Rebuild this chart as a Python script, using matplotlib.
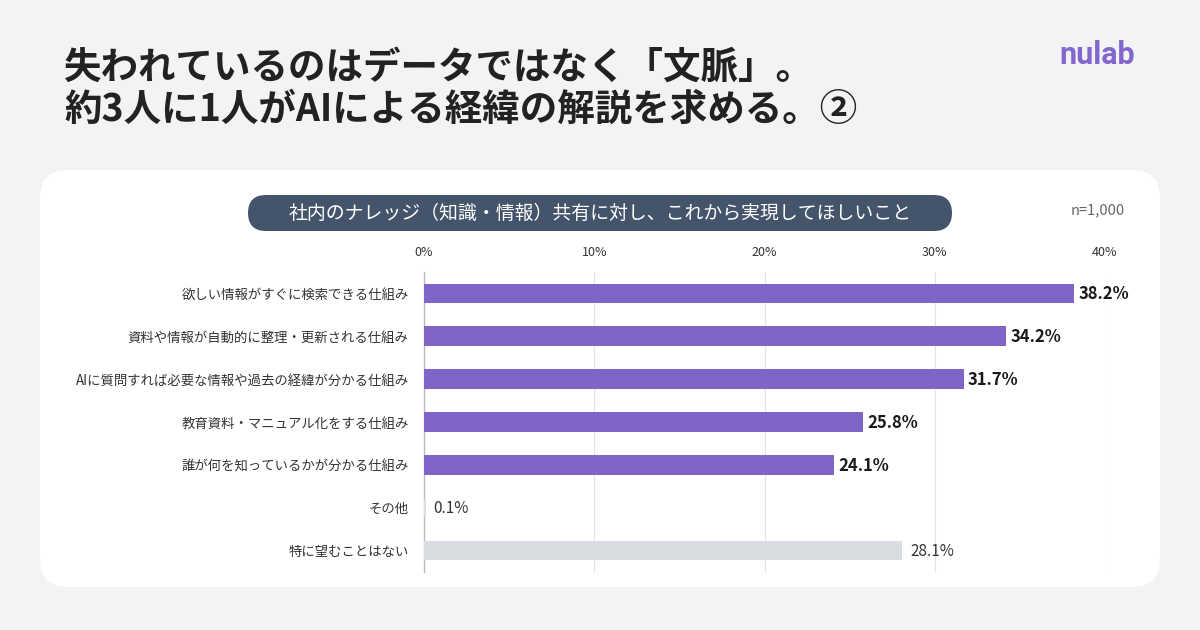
import matplotlib
matplotlib.use("Agg")
import matplotlib.pyplot as plt
from matplotlib.patches import FancyBboxPatch

plt.rcParams['font.family'] = ['Noto Sans CJK JP', 'DejaVu Sans']

categories = ['欲しい情報がすぐに検索できる仕組み',
              '資料や情報が自動的に整理・更新される仕組み',
              'AIに質問すれば必要な情報や過去の経緯が分かる仕組み',
              '教育資料・マニュアル化をする仕組み',
              '誰が何を知っているかが分かる仕組み',
              'その他',
              '特に望むことはない']
values = [38.2, 34.2, 31.7, 25.8, 24.1, 0.1, 28.1]
highlight = [True, True, True, True, True, False, False]
xticks = [0, 10, 20, 30, 40]

title1 = '失われているのはデータではなく「文脈」。'
title2 = '約3人に1人がAIによる経緯の解説を求める。②'
subtitle = '社内のナレッジ（知識・情報）共有に対し、これから実現してほしいこと'
note = 'n=1,000'

W, H = 1200, 630
fig = plt.figure(figsize=(12, 6.3), dpi=100)
fig.patch.set_facecolor('#f2f3f5')

# background layer in pixel coordinates
bg = fig.add_axes([0, 0, 1, 1])
bg.set_xlim(0, W)
bg.set_ylim(H, 0)
bg.axis('off')

card = FancyBboxPatch((40, 170), 1120, 417, boxstyle='round,pad=0,rounding_size=28',
                      fc='white', ec='none')
bg.add_patch(card)
pill = FancyBboxPatch((248, 195), 704, 36, boxstyle='round,pad=0,rounding_size=18',
                      fc='#44546b', ec='none')
bg.add_patch(pill)
bg.text(600, 213, subtitle, color='white', fontsize=13.6, ha='center', va='center')
bg.text(1125, 210, note, color='#666666', fontsize=10.5, ha='right', va='center')

bg.text(64, 67, title1, color='#222222', fontsize=27, fontweight='bold', va='center')
bg.text(64, 109, title2, color='#222222', fontsize=27, fontweight='bold', va='center')
bg.text(1135, 55, 'nulab', color='#8466d0', fontsize=22, fontweight='bold',
        family='Roboto', ha='right', va='center')

# chart
ax = fig.add_axes([424 / W, (H - 572) / H, (1105 - 424) / W, 300 / H])
ax.set_facecolor('none')
ypos = list(range(len(categories)))
colors = ['#8064c8' if h else '#d9dde2' for h in highlight]
ax.barh(ypos, values, height=0.46, color=colors, zorder=3)

for y, v, h in zip(ypos, values, highlight):
    ax.text(v + 0.25 if h else v + 0.45, y + 0.02, f'{v:.1f}%', va='center', ha='left',
            fontsize=12 if h else 11, fontweight='bold' if h else 'normal',
            color='#1a1a1a' if h else '#333333', zorder=4)

ax.set_xlim(0, 40)
ax.set_ylim(6.5, -0.5)
ax.set_xticks(xticks)
ax.set_xticklabels([f'{t}%' for t in xticks], fontsize=9, color='#333333')
ax.xaxis.tick_top()
ax.tick_params(axis='x', length=0, pad=9)
ax.set_yticks(ypos)
ax.set_yticklabels(categories, fontsize=9.6, color='#333333')
ax.tick_params(axis='y', length=0, pad=11)
ax.grid(axis='x', color='#e2e2e2', linewidth=0.8, zorder=0)
for s in ['top', 'right', 'bottom']:
    ax.spines[s].set_visible(False)
ax.spines['left'].set_color('#bbbbbb')
ax.spines['left'].set_linewidth(1.0)

fig.savefig('out.png', dpi=100, facecolor=fig.get_facecolor())
